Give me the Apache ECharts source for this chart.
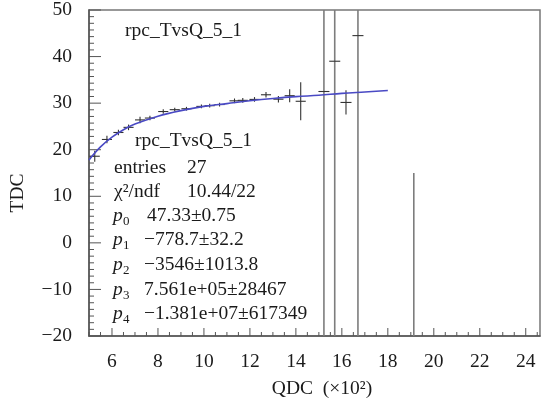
<!DOCTYPE html>
<html><head><meta charset="utf-8">
<script src="https://cdn.jsdelivr.net/npm/echarts@6/dist/echarts.min.js"></script>
<style>html,body{margin:0;padding:0;background:#fff}#c{width:543px;height:404px}</style>
</head><body><div id="c"></div>
<script>
// ---- data ----
const qdc    = [5.25, 5.78, 6.28, 6.72, 7.22, 7.65, 8.23, 8.73, 9.24, 9.89, 10.25, 10.68, 11.33, 11.69, 12.2, 12.70, 13.24, 13.73, 14.21, 15.22, 15.69, 16.18, 16.70, 19.13];
const tdc    = [18.6, 22.2, 23.7, 24.8, 26.4, 26.8, 28.2, 28.6, 28.8, 29.3, 29.45, 29.7, 30.5, 30.6, 30.8, 31.8, 30.85, 31.6, 30.4, 32.5, 39.0, 30.15, 44.5, -35];
const qdcErr = [0.22, 0.22, 0.22, 0.22, 0.22, 0.22, 0.22, 0.22, 0.22, 0.22, 0.22, 0.22, 0.22, 0.22, 0.22, 0.22, 0.22, 0.22, 0.22, 0.24, 0.24, 0.24, 0.24, 0.24];
const tdcErr = [1.2, 0.8, 0.6, 0.6, 0.7, 0.5, 0.5, 0.4, 0.4, 0.4, 0.4, 0.4, 0.5, 0.5, 0.5, 0.6, 0.7, 1.4, 4.1, 90, 90, 2.6, 90, 50];
const fitQdc = [5, 5.5, 6, 6.5, 7, 8, 9, 10, 11, 12, 13, 14, 15, 16, 17, 18];
const fitTdc = [17.8, 20.6, 22.7, 24.3, 25.5, 27.2, 28.4, 29.3, 29.9, 30.5, 31.0, 31.4, 31.7, 32.1, 32.4, 32.7];
const xLabelValues = [6, 8, 10, 12, 14, 16, 18, 20, 22, 24];
const yLabelValues = [-20, -10, 0, 10, 20, 30, 40, 50];
const statsName = 'rpc_TvsQ_5_1';
const statsRows = [
  ['entries', '27'],
  ['χ²/ndf', '10.44/22']
];
const paramNames  = ['0', '1', '2', '3', '4'];
const paramValues = ['47.33±0.75', '−778.7±32.2', '−3546±1013.8', '7.561e+05±28467', '−1.381e+07±617349'];

// ---- layout / style ----
const X_MIN = 5, X_MAX = 24.62, Y_MIN = -20, Y_MAX = 50;
const X_MINOR_STEP = 0.5, Y_MINOR_DIV = 7;
const FONT = '"Liberation Serif", "Times New Roman", serif';
const FS = 19.5;
const TXT = '#1a1a1a';
const AX = '#555';

const chart = echarts.init(document.getElementById('c'));

const errData = qdc.map((q, i) => [q, tdc[i], qdcErr[i], tdcErr[i]]);

// axis tick decoration (value, length in px)
const xTickData = [];
for (let v = X_MIN; v < X_MAX; v += X_MINOR_STEP) {
  xTickData.push([v, Y_MIN, xLabelValues.indexOf(v) >= 0 ? 8 : 4]);
}
const yTickData = [];
for (let i = 0; i < yLabelValues.length; i++) {
  yTickData.push([X_MIN, yLabelValues[i], 12]);
  if (i < yLabelValues.length - 1) {
    const step = (yLabelValues[i + 1] - yLabelValues[i]) / Y_MINOR_DIV;
    for (let k = 1; k < Y_MINOR_DIV; k++) yTickData.push([X_MIN, yLabelValues[i] + k * step, 5]);
  }
}

function txt(x, y, text, opts) {
  opts = opts || {};
  return {
    type: 'text', x: x, y: y, rotation: opts.rotation || 0, z: 100,
    style: {
      text: text, fill: TXT,
      font: (opts.italic ? 'italic ' : '') + (opts.size || FS) + 'px ' + FONT,
      textAlign: opts.align || 'left', textVerticalAlign: 'middle'
    }
  };
}

const graphics = [];
graphics.push(txt(125, 31, statsName));
graphics.push(txt(135, 141, statsName));
const rowY = [168, 192];
statsRows.forEach((r, i) => {
  graphics.push(txt(114, rowY[i], r[0]));
  graphics.push(txt(187, rowY[i], r[1]));
});
const pY = [216, 240, 265, 290, 314];
paramNames.forEach((n, i) => {
  graphics.push(txt(113, pY[i], 'p', {italic: true}));
  graphics.push(txt(123, pY[i] + 6, n, {size: 13}));
  graphics.push(txt(i === 0 ? 147 : 144, pY[i], paramValues[i]));
});
graphics.push(txt(322, 389, 'QDC  (×10²)', {align: 'center'}));
graphics.push(txt(18, 193, 'TDC', {align: 'center', rotation: Math.PI / 2}));

const minus = v => String(v).replace('-', '−');

const option = {
  animation: false,
  backgroundColor: '#fff',
  grid: {left: 89, right: 0, top: 8, bottom: 68, show: true, borderColor: '#777', borderWidth: 1.5, backgroundColor: 'transparent'},
  xAxis: [{
    type: 'value', min: X_MIN, max: X_MAX, interval: 0.5,
    axisLine: {show: true, onZero: false, lineStyle: {color: AX, width: 1.5}},
    axisTick: {show: false},
    axisLabel: {show: true, margin: 16, color: TXT, fontFamily: FONT, fontSize: FS,
      formatter: v => (xLabelValues.indexOf(v) >= 0 ? String(v) : '')},
    splitLine: {show: false}
  }],
  yAxis: [{
    type: 'value', min: Y_MIN, max: Y_MAX, interval: 10,
    axisLine: {show: true, onZero: false, lineStyle: {color: AX, width: 1.5}},
    axisTick: {show: false},
    minorTick: {show: false},
    axisLabel: {margin: 17, color: TXT, fontFamily: FONT, fontSize: FS, formatter: minus},
    splitLine: {show: false}
  }],
  series: [
    {
      type: 'custom', silent: true,
      data: xTickData, encode: {x: 0, y: 1},
      renderItem: function (params, api) {
        const p = api.coord([api.value(0), api.value(1)]);
        const len = api.value(2);
        return {type: 'line', shape: {x1: p[0], y1: p[1], x2: p[0], y2: p[1] - len},
          style: {stroke: AX, lineWidth: 1}};
      },
      z: 2
    },
    {
      type: 'custom', silent: true,
      data: yTickData, encode: {x: 0, y: 1},
      renderItem: function (params, api) {
        const p = api.coord([api.value(0), api.value(1)]);
        const len = api.value(2);
        return {type: 'line', shape: {x1: p[0], y1: p[1], x2: p[0] + len, y2: p[1]},
          style: {stroke: AX, lineWidth: 1}};
      },
      z: 2
    },
    {
      type: 'custom',
      data: errData, encode: {x: 0, y: 1},
      renderItem: function (params, api) {
        const x = api.value(0), y = api.value(1), ex = api.value(2), ey = api.value(3);
        const big = ey > 20;
        const lo = Math.max(Y_MIN, y - ey), hi = Math.min(Y_MAX, y + ey);
        const pt = api.coord([x, hi]), pb = api.coord([x, lo]);
        const children = [{
          type: 'line',
          shape: {x1: pt[0], y1: pt[1], x2: pb[0], y2: pb[1]},
          style: {stroke: big ? '#7d7d7d' : '#333', lineWidth: big ? 1.6 : 1.1}
        }];
        if (y >= Y_MIN && y <= Y_MAX) {
          const l = api.coord([x - ex, y]), r = api.coord([x + ex, y]);
          children.push({
            type: 'line',
            shape: {x1: l[0], y1: l[1], x2: r[0], y2: r[1]},
            style: {stroke: '#333', lineWidth: 1.1}
          });
        }
        return {type: 'group', children: children};
      },
      z: 3
    },
    {
      type: 'line',
      data: fitQdc.map((q, i) => [q, fitTdc[i]]),
      smooth: 0.4, showSymbol: false, symbol: 'none',
      lineStyle: {color: '#4a4ac4', width: 1.6},
      z: 4
    }
  ],
  graphic: graphics
};
chart.setOption(option);
</script>
</body></html>
